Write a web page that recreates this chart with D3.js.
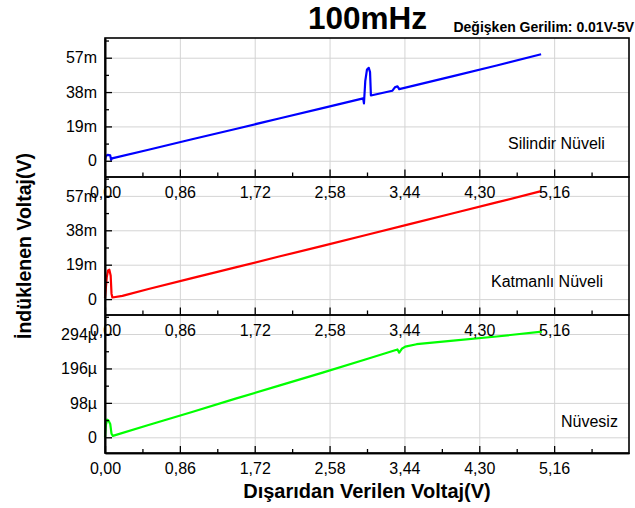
<!DOCTYPE html>
<html>
<head>
<meta charset="utf-8">
<script src="https://d3js.org/d3.v7.min.js"></script>
<style>
    body { margin: 0; background: #fff; }
    text { font-family: "Liberation Sans", Arial, sans-serif; fill: #000; }
    .grid line { stroke: #d4d4d4; stroke-width: 1; }
    .grid path { display: none; }
    .axis path { stroke: #000; stroke-width: 1.6; }
    .axis line { stroke: #000; stroke-width: 1.3; }
    .axis text { font-size: 16px; }
</style>
</head>
<body>
<script>
//x values (Dışarıdan Verilen Voltaj, V) and the three measured series
var xTicks = [0, 0.86, 1.72, 2.58, 3.44, 4.30, 5.16];
var xMinor = [0.43, 1.29, 2.15, 3.01, 3.87, 4.73, 5.59];

//Silindir Nüveli (mV)
var silindirX = [0.00, 0.01, 0.03, 0.06, 0.07, 0.08, 0.5, 1.0, 1.5, 2.0, 2.5, 2.966, 2.975, 2.99, 3.01, 3.03, 3.045, 3.055, 3.3, 3.33, 3.36, 3.38, 3.5, 4.0, 4.5, 5.01];
var silindirY = [0.4, 2.6, 3.3, 3.0, 0.5, 1.3, 6.1, 11.9, 17.6, 23.4, 29.1, 34.5, 31.7, 44.0, 50.5, 51.4, 49.0, 36.1, 38.7, 40.6, 41.2, 39.6, 41.0, 46.8, 52.7, 58.9];

//Katmanlı Nüveli (mV)
var katmanliX = [0.00, 0.02, 0.035, 0.05, 0.065, 0.075, 0.085, 0.2, 0.5, 1.0, 1.5, 2.0, 2.5, 3.0, 3.5, 4.0, 4.5, 5.01];
var katmanliY = [0.5, 12.0, 15.8, 16.2, 13.0, 3.0, 0.9, 1.8, 5.6, 11.6, 17.5, 23.5, 29.4, 35.4, 41.4, 47.4, 53.4, 59.6];

//Nüvesiz (µV)
var nuvesizX = [0.00, 0.01, 0.025, 0.04, 0.06, 0.075, 0.09, 0.5, 1.0, 1.5, 2.0, 2.5, 3.0, 3.36, 3.38, 3.41, 3.45, 3.58, 4.0, 4.5, 5.02];
var nuvesizY = [0, 35, 50, 48, 38, 10, 4, 35, 72, 110, 147, 184, 222, 250, 241, 252, 258, 265, 275, 287, 301];

//y ticks for each panel
var mTicks = [0, 19, 38, 57];
var mMinor = [9.5, 28.5, 47.5, 66.5];
var mLabels = ["0", "19m", "38m", "57m"];
var uTicks = [0, 98, 196, 294];
var uMinor = [49, 147, 245, 343];
var uLabels = ["0", "98µ", "196µ", "294µ"];

var panelNames = ["Silindir Nüveli", "Katmanlı Nüveli", "Nüvesiz"];

window.onload = drawChart();

function drawChart(){
    var width = 635,
        height = 508;

    var left = 105,
        right = 629,
        tops = [38, 176.5, 314.5],
        bottoms = [176.5, 314.5, 453];

    var svg = d3.select("body")
        .append("svg")
        .attr("width", width)
        .attr("height", height);

    //shared x scale
    var x = d3.scaleLinear()
        .domain([0, 6.02])
        .range([left, right]);

    var panels = [
        {xs: silindirX, ys: silindirY, color: "#0000ff", domain: [-8.7, 67.9], ticks: mTicks, minor: mMinor, labels: mLabels, name: panelNames[0], nx: 508, ny: 148.5},
        {xs: katmanliX, ys: katmanliY, color: "#ff0000", domain: [-8.5, 67.7], ticks: mTicks, minor: mMinor, labels: mLabels, name: panelNames[1], nx: 491, ny: 286.5},
        {xs: nuvesizX, ys: nuvesizY, color: "#00ff00", domain: [-44.7, 349.6], ticks: uTicks, minor: uMinor, labels: uLabels, name: panelNames[2], nx: 561, ny: 426.5}
    ];

    panels.forEach(function(p, i){
        var y = d3.scaleLinear()
            .domain(p.domain)
            .range([bottoms[i], tops[i]]);

        var g = svg.append("g");

        //gridlines
        g.append("g")
            .attr("class", "grid")
            .attr("transform", "translate(0," + bottoms[i] + ")")
            .call(d3.axisBottom(x).tickValues(xTicks).tickSize(-(bottoms[i] - tops[i])).tickFormat(""));
        g.append("g")
            .attr("class", "grid")
            .attr("transform", "translate(" + left + ",0)")
            .call(d3.axisLeft(y).tickValues(p.ticks).tickSize(-(right - left)).tickFormat(""));

        //series line
        var pts = p.xs.map(function(d, k){ return [d, p.ys[k]]; });
        g.append("path")
            .datum(pts)
            .attr("fill", "none")
            .attr("stroke", p.color)
            .attr("stroke-width", 2.2)
            .attr("stroke-linejoin", "round")
            .attr("d", d3.line().x(function(d){ return x(d[0]); }).y(function(d){ return y(d[1]); }));

        //left axis, ticks inward
        g.append("g")
            .attr("class", "axis")
            .attr("transform", "translate(" + left + ",0)")
            .call(d3.axisLeft(y).tickValues(p.minor).tickSize(-4).tickSizeOuter(0).tickFormat(""));
        g.append("g")
            .attr("class", "axis")
            .attr("transform", "translate(" + left + ",0)")
            .call(d3.axisLeft(y).tickValues(p.ticks).tickSize(-7).tickSizeOuter(0).tickPadding(8)
                .tickFormat(function(d, k){ return p.labels[k]; }));

        //panel name
        g.append("text")
            .attr("x", p.nx)
            .attr("y", p.ny)
            .style("font-size", "16px")
            .text(p.name);
    });

    //bottom axes drawn last so the labels sit over the next panel
    bottoms.forEach(function(b){
        svg.append("g")
            .attr("class", "axis")
            .attr("transform", "translate(0," + b + ")")
            .call(d3.axisBottom(x).tickValues(xMinor.filter(function(d){ return d < 6.02; })).tickSize(-4).tickSizeOuter(0).tickFormat(""));
        svg.append("g")
            .attr("class", "axis")
            .attr("transform", "translate(0," + b + ")")
            .call(d3.axisBottom(x).tickValues(xTicks).tickSize(-7).tickSizeOuter(0).tickPadding(10)
                .tickFormat(function(d){ return d3.format(".2f")(d).replace(".", ","); }));
    });

    //outer frame
    svg.append("rect")
        .attr("x", left)
        .attr("y", tops[0])
        .attr("width", right - left)
        .attr("height", bottoms[2] - tops[0])
        .attr("fill", "none")
        .attr("stroke", "#000")
        .attr("stroke-width", 1.6);

    //titles
    svg.append("text")
        .attr("x", 367.5)
        .attr("y", 29)
        .attr("text-anchor", "middle")
        .style("font-size", "31.5px")
        .style("font-weight", "bold")
        .text("100mHz");

    svg.append("text")
        .attr("x", 634)
        .attr("y", 32)
        .attr("text-anchor", "end")
        .style("font-size", "14px")
        .style("font-weight", "bold")
        .text("Değişken Gerilim: 0.01V-5V");

    svg.append("text")
        .attr("x", 367)
        .attr("y", 498)
        .attr("text-anchor", "middle")
        .style("font-size", "20px")
        .style("font-weight", "bold")
        .text("Dışarıdan Verilen Voltaj(V)");

    svg.append("text")
        .attr("transform", "translate(31,246) rotate(-90)")
        .attr("text-anchor", "middle")
        .style("font-size", "19.5px")
        .style("font-weight", "bold")
        .text("İndüklenen Voltaj(V)");
};
</script>
</body>
</html>
